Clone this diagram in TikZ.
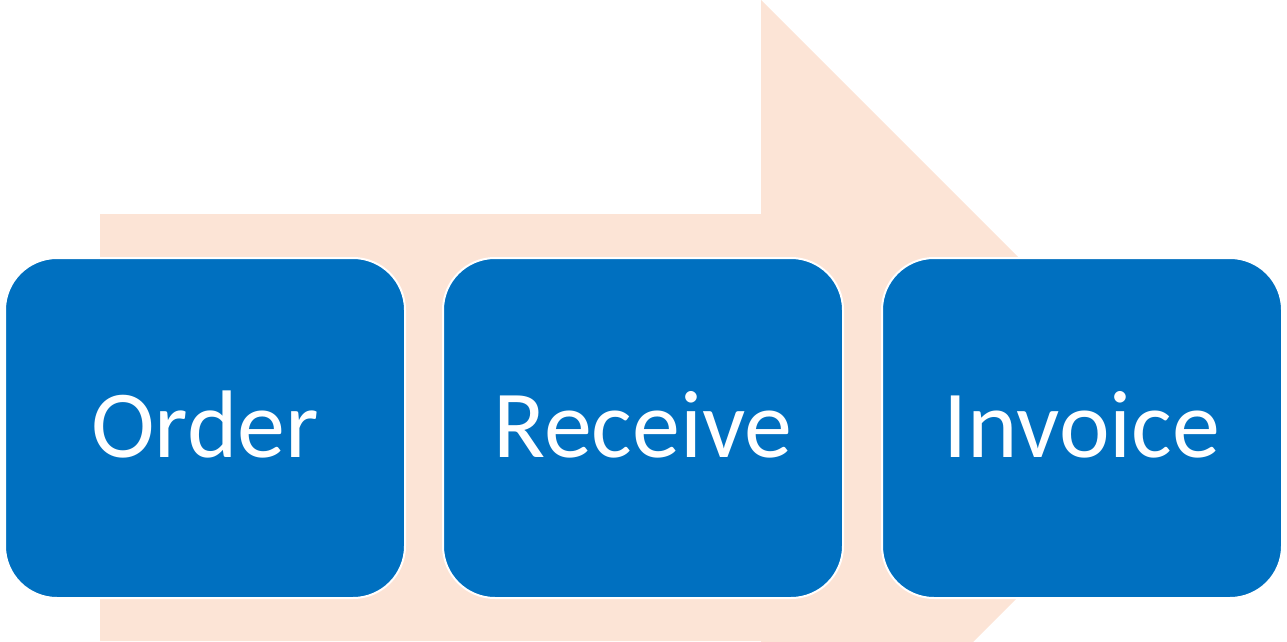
\documentclass[tikz,border=0pt]{standalone}
\usepackage{fontspec}
\setmainfont{Carlito}
\definecolor{peach}{HTML}{FCE4D6}
\definecolor{boxblue}{HTML}{0070C0}
\begin{document}
\begin{tikzpicture}[x=1pt,y=-1pt,
  stepbox/.style={draw=white, line width=2pt, fill=boxblue, rounded corners=52pt,
    minimum width=400pt, minimum height=340pt, inner sep=0pt,
    text=white, font=\fontsize{96pt}{110pt}\selectfont}]
\useasboundingbox (0,0) rectangle (1287,642);
\begin{scope}
\clip (0,0) rectangle (1287,642);
\fill[peach] (100,214) -- (761,214) -- (761,0) -- (1188,427) -- (761,854) -- (761,641) -- (100,641) -- cycle;
\end{scope}
\node[stepbox] (order) at (205,428) {\raisebox{7pt}{Order}};
\node[stepbox] (receive) at (643,428) {\raisebox{7pt}{Receive}};
\node[stepbox] (invoice) at (1082,428) {\raisebox{7pt}{Invoice}};
\end{tikzpicture}
\end{document}
